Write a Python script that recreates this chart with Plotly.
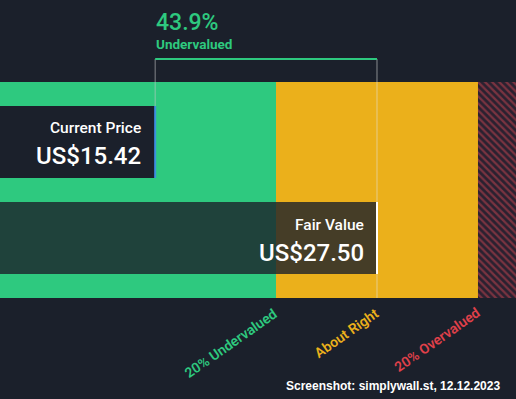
import plotly.graph_objects as go

# ---- data ----
current_price = 15.42
fair_value = 27.50
undervalued_pct = 43.9
band_edges = [22.0, 33.0]          # 20% under / 20% over fair value
band_labels = ["20% Undervalued", "About Right", "20% Overvalued"]
axis_range = [6.97, 35.07]
currency = "US$"

BG = "#1b202b"
GREEN = "#2ec97f"
YELLOW = "#ebb01b"
RED = "#e0404a"

fig = go.Figure()

# bands (y axis in pixel-like units, reversed)
fig.add_trace(go.Bar(orientation="h", y=[190], x=[band_edges[0]], base=[0], width=[216],
                     marker=dict(color=GREEN, line=dict(width=0)), hoverinfo="skip"))
fig.add_trace(go.Bar(orientation="h", y=[190], x=[band_edges[1] - band_edges[0]], base=[band_edges[0]],
                     width=[216], marker=dict(color=YELLOW, line=dict(width=0)), hoverinfo="skip"))
fig.add_trace(go.Bar(orientation="h", y=[190], x=[10], base=[band_edges[1]], width=[216],
                     marker=dict(color="#2a2130", line=dict(width=0),
                                 pattern=dict(shape="\\", fgcolor="#7a3340", bgcolor="#2a2130",
                                              size=5, solidity=0.45, fillmode="replace")),
                     hoverinfo="skip"))
# fair value bar
fig.add_trace(go.Bar(orientation="h", y=[238], x=[fair_value], base=[0], width=[72],
                     marker=dict(color="rgba(27,32,43,0.8)", line=dict(width=0)), hoverinfo="skip"))
# current price bar
fig.add_trace(go.Bar(orientation="h", y=[142], x=[current_price], base=[0], width=[72],
                     marker=dict(color=BG, line=dict(width=0)), hoverinfo="skip"))

shapes = [
    dict(type="line", x0=current_price, x1=current_price, y0=59, y1=106,
         line=dict(color="rgba(200,200,200,0.6)", width=1)),
    dict(type="line", x0=fair_value, x1=fair_value, y0=59, y1=298,
         line=dict(color="rgba(230,230,230,0.55)", width=1)),
    dict(type="line", x0=current_price, x1=fair_value, y0=59, y1=59,
         line=dict(color=GREEN, width=2)),
    dict(type="line", x0=current_price, x1=current_price, y0=106, y1=178,
         line=dict(color="#3d8fe0", width=2)),
    dict(type="line", x0=fair_value, x1=fair_value, y0=202, y1=274,
         line=dict(color="#ffffff", width=2)),
]
for s in shapes:
    s.update(xref="x", yref="y", layer="above")

font = "Roboto, sans-serif"
ann = [
    dict(x=current_price, y=22, text=f"{undervalued_pct}%", xanchor="left", yanchor="middle",
         xshift=-1, font=dict(family=font, size=23, color=GREEN, weight=500)),
    dict(x=current_price, y=44, text="Undervalued", xanchor="left", yanchor="middle",
         xshift=-1, font=dict(family=font, size=13.5, color=GREEN, weight=700)),
    dict(x=current_price, y=128, text="Current Price", xanchor="right", yanchor="middle",
         xshift=-12, font=dict(family=font, size=15.5, color="white", weight=500)),
    dict(x=current_price, y=156, text=f"{currency}{current_price:.2f}", xanchor="right", yanchor="middle",
         xshift=-12, font=dict(family=font, size=24, color="white", weight=500)),
    dict(x=fair_value, y=225, text="Fair Value", xanchor="right", yanchor="middle",
         xshift=-11, font=dict(family=font, size=15.5, color="white", weight=500)),
    dict(x=fair_value, y=253, text=f"{currency}{fair_value:.2f}", xanchor="right", yanchor="middle",
         xshift=-11, font=dict(family=font, size=24, color="white", weight=500)),
]
label_pos = [band_edges[0], fair_value, band_edges[1]]
label_col = [GREEN, YELLOW, RED]
for lx, lt, lc in zip(label_pos, band_labels, label_col):
    ann.append(dict(x=lx, y=302, text=lt, textangle=-35, xanchor="right", yanchor="top",
                    xshift=7, font=dict(family=font, size=14, color=lc, weight=600)))
ann.append(dict(x=1, y=386, xref="paper", text="Screenshot: simplywall.st, 12.12.2023",
                xanchor="right", yanchor="middle", xshift=-14,
                font=dict(family="Liberation Sans, Arial", size=12, color="white", weight=700)))
for a in ann:
    a.setdefault("xref", "x")
    a.update(yref="y", showarrow=False)

fig.update_layout(
    width=516, height=399, margin=dict(l=0, r=0, t=0, b=0),
    paper_bgcolor=BG, plot_bgcolor=BG, barmode="overlay", showlegend=False,
    xaxis=dict(range=axis_range, visible=False, fixedrange=True),
    yaxis=dict(range=[399, 0], visible=False, fixedrange=True),
    shapes=shapes, annotations=ann,
)
fig.write_html("out.html", config={"displayModeBar": False},
               post_script="document.body.style.margin='0';document.body.style.overflow='hidden';")
